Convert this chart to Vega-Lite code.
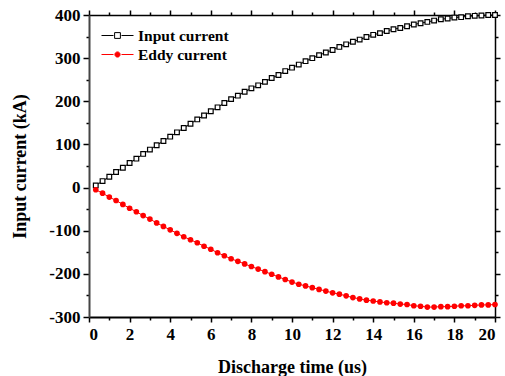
{
  "$schema": "https://vega.github.io/schema/vega-lite/v6.json",
  "width": 406,
  "height": 302,
  "autosize": "none",
  "padding": {"left": 89, "top": 15, "right": 10, "bottom": 59},
  "config": {
    "view": {"stroke": null},
    "font": "Liberation Serif",
    "axis": {
      "grid": false,
      "domainColor": "black",
      "tickColor": "black",
      "tickWidth": 1.5,
      "labelFont": "Liberation Serif",
      "labelFontSize": 17,
      "labelFontWeight": "bold",
      "labelColor": "black",
      "titleFont": "Liberation Serif",
      "titleFontSize": 18,
      "titleFontWeight": "bold",
      "titleColor": "black"
    }
  },
  "data": {
    "values": [
      {"t": 0.333, "series": "Input current", "kA": 5},
      {"t": 0.667, "series": "Input current", "kA": 15},
      {"t": 1.0, "series": "Input current", "kA": 25},
      {"t": 1.333, "series": "Input current", "kA": 36},
      {"t": 1.667, "series": "Input current", "kA": 46},
      {"t": 2.0, "series": "Input current", "kA": 57},
      {"t": 2.333, "series": "Input current", "kA": 67},
      {"t": 2.667, "series": "Input current", "kA": 78},
      {"t": 3.0, "series": "Input current", "kA": 88},
      {"t": 3.333, "series": "Input current", "kA": 98},
      {"t": 3.667, "series": "Input current", "kA": 108},
      {"t": 4.0, "series": "Input current", "kA": 118},
      {"t": 4.333, "series": "Input current", "kA": 128},
      {"t": 4.667, "series": "Input current", "kA": 138},
      {"t": 5.0, "series": "Input current", "kA": 148},
      {"t": 5.333, "series": "Input current", "kA": 158},
      {"t": 5.667, "series": "Input current", "kA": 167},
      {"t": 6.0, "series": "Input current", "kA": 177},
      {"t": 6.333, "series": "Input current", "kA": 186},
      {"t": 6.667, "series": "Input current", "kA": 196},
      {"t": 7.0, "series": "Input current", "kA": 205},
      {"t": 7.333, "series": "Input current", "kA": 213},
      {"t": 7.667, "series": "Input current", "kA": 222},
      {"t": 8.0, "series": "Input current", "kA": 230},
      {"t": 8.333, "series": "Input current", "kA": 237},
      {"t": 8.667, "series": "Input current", "kA": 245},
      {"t": 9.0, "series": "Input current", "kA": 254},
      {"t": 9.333, "series": "Input current", "kA": 261},
      {"t": 9.667, "series": "Input current", "kA": 270},
      {"t": 10.0, "series": "Input current", "kA": 278},
      {"t": 10.333, "series": "Input current", "kA": 285},
      {"t": 10.667, "series": "Input current", "kA": 293},
      {"t": 11.0, "series": "Input current", "kA": 300},
      {"t": 11.333, "series": "Input current", "kA": 307},
      {"t": 11.667, "series": "Input current", "kA": 313},
      {"t": 12.0, "series": "Input current", "kA": 319},
      {"t": 12.333, "series": "Input current", "kA": 326},
      {"t": 12.667, "series": "Input current", "kA": 332},
      {"t": 13.0, "series": "Input current", "kA": 338},
      {"t": 13.333, "series": "Input current", "kA": 343},
      {"t": 13.667, "series": "Input current", "kA": 349},
      {"t": 14.0, "series": "Input current", "kA": 354},
      {"t": 14.333, "series": "Input current", "kA": 358},
      {"t": 14.667, "series": "Input current", "kA": 363},
      {"t": 15.0, "series": "Input current", "kA": 367},
      {"t": 15.333, "series": "Input current", "kA": 370},
      {"t": 15.667, "series": "Input current", "kA": 374},
      {"t": 16.0, "series": "Input current", "kA": 378},
      {"t": 16.333, "series": "Input current", "kA": 381},
      {"t": 16.667, "series": "Input current", "kA": 384},
      {"t": 17.0, "series": "Input current", "kA": 387},
      {"t": 17.333, "series": "Input current", "kA": 390},
      {"t": 17.667, "series": "Input current", "kA": 392},
      {"t": 18.0, "series": "Input current", "kA": 394},
      {"t": 18.333, "series": "Input current", "kA": 395},
      {"t": 18.667, "series": "Input current", "kA": 397},
      {"t": 19.0, "series": "Input current", "kA": 398},
      {"t": 19.333, "series": "Input current", "kA": 399},
      {"t": 19.667, "series": "Input current", "kA": 400},
      {"t": 20.0, "series": "Input current", "kA": 400},
      {"t": 0.333, "series": "Eddy current", "kA": -5},
      {"t": 0.667, "series": "Eddy current", "kA": -13},
      {"t": 1.0, "series": "Eddy current", "kA": -22},
      {"t": 1.333, "series": "Eddy current", "kA": -30},
      {"t": 1.667, "series": "Eddy current", "kA": -39},
      {"t": 2.0, "series": "Eddy current", "kA": -48},
      {"t": 2.333, "series": "Eddy current", "kA": -56},
      {"t": 2.667, "series": "Eddy current", "kA": -65},
      {"t": 3.0, "series": "Eddy current", "kA": -73},
      {"t": 3.333, "series": "Eddy current", "kA": -82},
      {"t": 3.667, "series": "Eddy current", "kA": -90},
      {"t": 4.0, "series": "Eddy current", "kA": -98},
      {"t": 4.333, "series": "Eddy current", "kA": -106},
      {"t": 4.667, "series": "Eddy current", "kA": -114},
      {"t": 5.0, "series": "Eddy current", "kA": -121},
      {"t": 5.333, "series": "Eddy current", "kA": -128},
      {"t": 5.667, "series": "Eddy current", "kA": -136},
      {"t": 6.0, "series": "Eddy current", "kA": -143},
      {"t": 6.333, "series": "Eddy current", "kA": -151},
      {"t": 6.667, "series": "Eddy current", "kA": -158},
      {"t": 7.0, "series": "Eddy current", "kA": -165},
      {"t": 7.333, "series": "Eddy current", "kA": -171},
      {"t": 7.667, "series": "Eddy current", "kA": -177},
      {"t": 8.0, "series": "Eddy current", "kA": -183},
      {"t": 8.333, "series": "Eddy current", "kA": -189},
      {"t": 8.667, "series": "Eddy current", "kA": -195},
      {"t": 9.0, "series": "Eddy current", "kA": -201},
      {"t": 9.333, "series": "Eddy current", "kA": -207},
      {"t": 9.667, "series": "Eddy current", "kA": -213},
      {"t": 10.0, "series": "Eddy current", "kA": -219},
      {"t": 10.333, "series": "Eddy current", "kA": -224},
      {"t": 10.667, "series": "Eddy current", "kA": -228},
      {"t": 11.0, "series": "Eddy current", "kA": -232},
      {"t": 11.333, "series": "Eddy current", "kA": -236},
      {"t": 11.667, "series": "Eddy current", "kA": -240},
      {"t": 12.0, "series": "Eddy current", "kA": -244},
      {"t": 12.333, "series": "Eddy current", "kA": -247},
      {"t": 12.667, "series": "Eddy current", "kA": -251},
      {"t": 13.0, "series": "Eddy current", "kA": -255},
      {"t": 13.333, "series": "Eddy current", "kA": -258},
      {"t": 13.667, "series": "Eddy current", "kA": -261},
      {"t": 14.0, "series": "Eddy current", "kA": -263},
      {"t": 14.333, "series": "Eddy current", "kA": -265},
      {"t": 14.667, "series": "Eddy current", "kA": -267},
      {"t": 15.0, "series": "Eddy current", "kA": -268},
      {"t": 15.333, "series": "Eddy current", "kA": -270},
      {"t": 15.667, "series": "Eddy current", "kA": -271},
      {"t": 16.0, "series": "Eddy current", "kA": -274},
      {"t": 16.333, "series": "Eddy current", "kA": -275},
      {"t": 16.667, "series": "Eddy current", "kA": -277},
      {"t": 17.0, "series": "Eddy current", "kA": -277},
      {"t": 17.333, "series": "Eddy current", "kA": -276},
      {"t": 17.667, "series": "Eddy current", "kA": -276},
      {"t": 18.0, "series": "Eddy current", "kA": -275},
      {"t": 18.333, "series": "Eddy current", "kA": -274},
      {"t": 18.667, "series": "Eddy current", "kA": -274},
      {"t": 19.0, "series": "Eddy current", "kA": -273},
      {"t": 19.333, "series": "Eddy current", "kA": -272},
      {"t": 19.667, "series": "Eddy current", "kA": -272},
      {"t": 20.0, "series": "Eddy current", "kA": -271}
    ]
  },
  "layer": [
    {
      "mark": {"type": "line", "strokeWidth": 1, "clip": false},
      "encoding": {
        "x": {
          "field": "t", "type": "quantitative",
          "scale": {"domain": [0, 20], "nice": false},
          "axis": {
            "orient": "bottom",
            "title": "Discharge time (us)",
            "titlePadding": 16,
            "values": [0,1,2,3,4,5,6,7,8,9,10,11,12,13,14,15,16,17,18,19,20],
            "labelExpr": "datum.value % 2 === 0 ? '' + datum.value : ''",
            "tickSize": {"condition": {"test": "datum.value % 2 === 0", "value": 5}, "value": 3},
            "domainWidth": 2,
            "labelPadding": 4
          }
        },
        "y": {
          "field": "kA", "type": "quantitative",
          "scale": {"domain": [-300, 400], "nice": false},
          "axis": {
            "orient": "left",
            "title": "Input current (kA)",
            "titlePadding": 19,
            "values": [-300,-250,-200,-150,-100,-50,0,50,100,150,200,250,300,350,400],
            "labelExpr": "datum.value % 100 === 0 ? '' + datum.value : ''",
            "tickSize": {"condition": {"test": "datum.value % 100 === 0", "value": 6}, "value": 3},
            "domainWidth": 2,
            "domainColor": "#444444",
            "labelPadding": 3
          }
        },
        "stroke": {
          "field": "series", "type": "nominal",
          "scale": {"domain": ["Input current", "Eddy current"], "range": ["black", "red"]}
        },
        "detail": {"field": "series"}
      }
    },
    {
      "transform": [{"filter": "datum.series === 'Input current'"}],
      "mark": {"type": "point", "shape": "square", "filled": false, "color": "black", "fill": "white", "fillOpacity": 1, "size": 22, "strokeWidth": 1.2, "opacity": 1, "clip": false},
      "encoding": {
        "x": {
          "field": "t", "type": "quantitative",
          "axis": {
            "orient": "top", "title": null, "labels": false,
            "values": [0,1,2,3,4,5,6,7,8,9,10,11,12,13,14,15,16,17,18,19,20],
            "tickSize": {"condition": {"test": "datum.value % 2 === 0", "value": 5}, "value": 3},
            "domainWidth": 1.5
          }
        },
        "y": {
          "field": "kA", "type": "quantitative",
          "axis": {
            "orient": "right", "title": null, "labels": false,
            "values": [-300,-250,-200,-150,-100,-50,0,50,100,150,200,250,300,350,400],
            "tickSize": {"condition": {"test": "datum.value % 100 === 0", "value": 5}, "value": 3},
            "domainWidth": 1.5
          }
        }
      }
    },
    {
      "transform": [{"filter": "datum.series === 'Eddy current'"}],
      "mark": {"type": "point", "shape": "circle", "filled": true, "color": "red", "size": 32, "opacity": 1, "clip": false},
      "encoding": {
        "x": {"field": "t", "type": "quantitative", "axis": null},
        "y": {"field": "kA", "type": "quantitative", "axis": null}
      }
    },
    {
      "transform": [{"filter": "datum.t < 0"}],
      "mark": {"type": "point", "filled": true, "opacity": 1},
      "encoding": {
        "x": {"field": "t", "type": "quantitative", "axis": null},
        "y": {"field": "kA", "type": "quantitative", "axis": null},
        "stroke": {
          "field": "series", "type": "nominal",
          "legend": {
            "title": null, "orient": "none", "legendX": 18, "legendY": 10, "padding": 0,
            "symbolSize": 400, "symbolStrokeWidth": 1, "rowPadding": -1, "labelOffset": 10,
            "labelFont": "Liberation Serif", "labelFontSize": 15.5, "labelFontWeight": "bold", "labelColor": "black"
          }
        },
        "fill": {
          "field": "series", "type": "nominal",
          "scale": {"domain": ["Input current", "Eddy current"], "range": ["white", "red"]},
          "legend": {
            "title": null, "orient": "none", "legendX": 18, "legendY": 10, "padding": 0,
            "symbolSize": 400, "symbolStrokeWidth": 1, "rowPadding": -1, "labelOffset": 10,
            "labelFont": "Liberation Serif", "labelFontSize": 15.5, "labelFontWeight": "bold", "labelColor": "black"
          }
        },
        "shape": {
          "field": "series", "type": "nominal",
          "scale": {
            "domain": ["Input current", "Eddy current"],
            "range": [
              "M-1.6,0H-0.4M0.4,0H1.6M-0.29,-0.29H0.29V0.29H-0.29Z",
              "M-1.6,0H-0.4M0.4,0H1.6M-0.26,0A0.26,0.26 0 1,0 0.26,0A0.26,0.26 0 1,0 -0.26,0Z"
            ]
          },
          "legend": {
            "title": null, "orient": "none", "legendX": 18, "legendY": 10, "padding": 0,
            "symbolSize": 400, "symbolStrokeWidth": 1, "rowPadding": -1, "labelOffset": 10,
            "labelFont": "Liberation Serif", "labelFontSize": 15.5, "labelFontWeight": "bold", "labelColor": "black"
          }
        }
      }
    }
  ],
  "resolve": {"axis": {"x": "independent", "y": "independent"}}
}
